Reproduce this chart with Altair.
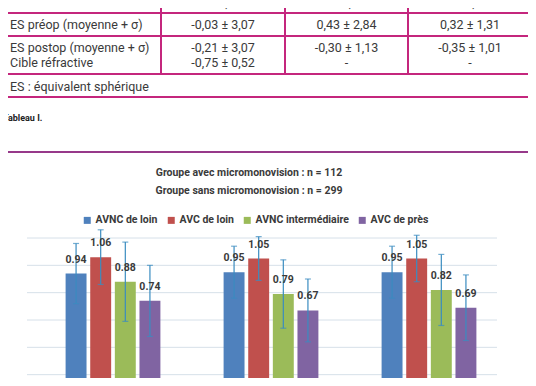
import altair as alt
import pandas as pd

# ---------------- data ----------------
groups = ["Avec micromonovision", "Sans micromonovision", "Total"]
series = ["AVNC de loin", "AVC de loin", "AVNC intermédiaire", "AVC de près"]
colors = ["#4f81bd", "#c0504d", "#9bbb59", "#8064a2"]

vals_g1 = [0.94, 1.06, 0.88, 0.74]
err_g1 = [0.22, 0.20, 0.29, 0.26]
vals_g2 = [0.95, 1.05, 0.79, 0.67]
err_g2 = [0.19, 0.16, 0.25, 0.23]
vals_g3 = [0.95, 1.05, 0.82, 0.69]
err_g3 = [0.19, 0.17, 0.26, 0.24]

grid_ticks = [0.2, 0.4, 0.6, 0.8, 1.0, 1.2]

title_lines = ["Groupe avec micromonovision : n = 112",
               "Groupe sans micromonovision : n = 299"]
caption = "Tableau I."

table_labels = ["Hommes %", "ES préop (moyenne + σ)", "ES postop (moyenne + σ)", "Cible réfractive"]
table_col1 = ["43,9", "-0,03 ± 3,07", "-0,21 ± 3,07", "-0,75 ± 0,52"]
table_col2 = ["39,1", "0,43 ± 2,84", "-0,30 ± 1,13", "-"]
table_col3 = ["40,1", "0,32 ± 1,31", "-0,35 ± 1,01", "-"]
table_note = "ES : équivalent sphérique"

# ---------------- layout (page pixels) ----------------
W, H = 528, 378
PAD = -8
COL_EDGES = [3, 161, 285, 408, 532]
ROW_EDGES = [-12, 13, 36, 74, 97]
LINE_Y = [3, 25, 48, 63]
NOTE_Y = 87
TABLE_COLOR = "#c4267d"
FRAME_COLOR = "#97398a"
TEXT_COLOR = "#3a3a3a"
ERR_COLOR = "#3a8cc0"
FONT = "Roboto"

# table lines
rules = []
for y in ROW_EDGES[1:]:
    rules.append(dict(x=COL_EDGES[0], x2=COL_EDGES[-1], y=y, y2=y))
for x in (COL_EDGES[0], COL_EDGES[-1]):
    rules.append(dict(x=x, x2=x, y=ROW_EDGES[0], y2=ROW_EDGES[-1]))
for x in COL_EDGES[1:-1]:
    rules.append(dict(x=x, x2=x, y=ROW_EDGES[0], y2=ROW_EDGES[-2]))
df_rules = pd.DataFrame(rules)

df_left = pd.DataFrame({"t": table_labels + [table_note],
                        "x": [COL_EDGES[0] + 7] * 5,
                        "y": LINE_Y + [NOTE_Y]})
centers = [(COL_EDGES[i] + COL_EDGES[i + 1]) / 2 for i in range(1, 4)]
cells = []
for ci, col in enumerate([table_col1, table_col2, table_col3]):
    for ri, t in enumerate(col):
        cells.append(dict(t=t, x=centers[ci], y=LINE_Y[ri]))
df_cells = pd.DataFrame(cells)

table_rules = alt.Chart(df_rules).mark_rule(color=TABLE_COLOR, strokeWidth=2).encode(
    x=alt.X("x:Q", scale=None, axis=None), x2="x2:Q",
    y=alt.Y("y:Q", scale=None, axis=None), y2="y2:Q")

table_left = alt.Chart(df_left).mark_text(
    align="left", baseline="middle", font=FONT, fontSize=12.5, color=TEXT_COLOR).encode(
    x=alt.X("x:Q", scale=None, axis=None), y=alt.Y("y:Q", scale=None, axis=None), text="t:N")

table_center = alt.Chart(df_cells).mark_text(
    align="center", baseline="middle", font=FONT, fontSize=12.5, color=TEXT_COLOR).encode(
    x=alt.X("x:Q", scale=None, axis=None), y=alt.Y("y:Q", scale=None, axis=None), text="t:N")

cap_text = alt.Chart(pd.DataFrame({"t": [caption]})).mark_text(
    align="left", baseline="middle", font=FONT, fontSize=9, fontWeight="bold", color="#222").encode(
    x=alt.value(3), y=alt.value(118), text="t:N")

frame = alt.Chart(pd.DataFrame({"a": [0]})).mark_rect(
    fillOpacity=0, stroke=FRAME_COLOR, strokeWidth=2).encode(
    x=alt.value(3), x2=alt.value(532), y=alt.value(152), y2=alt.value(440))

titles = alt.Chart(pd.DataFrame({"t": title_lines, "y": [173, 191]})).mark_text(
    align="center", baseline="middle", font=FONT, fontSize=10.5, fontWeight="bold", color=TEXT_COLOR).encode(
    x=alt.value(249), y=alt.Y("y:Q", scale=None, axis=None), text="t:N")

# ---------------- bar chart ----------------
rows = []
for g, vals, errs in zip(groups, [vals_g1, vals_g2, vals_g3], [err_g1, err_g2, err_g3]):
    for s, v, e in zip(series, vals, errs):
        rows.append(dict(group=g, series=s, value=v, lo=v - e, hi=v + e))
df = pd.DataFrame(rows)

xs = alt.Scale(domain=groups, range=[34, 508], paddingInner=0.4, paddingOuter=0.2)
xo = alt.Scale(domain=series, paddingInner=0.15, paddingOuter=0)
ys = alt.Scale(domain=[0, 1.2], range=[402, 238], nice=False, zero=False)

X = alt.X("group:N", scale=xs, axis=None, sort=groups)
XO = alt.XOffset("series:N", scale=xo, sort=series)

grid = alt.Chart(pd.DataFrame({"v": grid_ticks})).mark_rule(color="#d6e0e9", strokeWidth=1).encode(
    y=alt.Y("v:Q", scale=ys, axis=None), x=alt.value(27), x2=alt.value(497))

bars = alt.Chart(df).mark_bar().encode(
    x=X, xOffset=XO,
    y=alt.Y("value:Q", scale=ys, axis=None),
    color=alt.Color("series:N", sort=series,
                    scale=alt.Scale(domain=series, range=colors),
                    legend=alt.Legend(title=None, orient="none", legendX=82, legendY=215,
                                      direction="horizontal", symbolType="square",
                                      symbolSize=49, symbolStrokeWidth=0,
                                      labelFont=FONT, labelFontWeight="bold",
                                      labelFontSize=10.5, labelColor=TEXT_COLOR,
                                      columnPadding=8, labelOffset=3)))

err = alt.Chart(df).mark_rule(color=ERR_COLOR, strokeWidth=1.2).encode(
    x=X, xOffset=XO, y=alt.Y("lo:Q", scale=ys, axis=None), y2="hi:Q")
cap_lo = alt.Chart(df).mark_tick(color=ERR_COLOR, size=6, thickness=1.2, orient="horizontal").encode(
    x=X, xOffset=XO, y=alt.Y("lo:Q", scale=ys, axis=None))
cap_hi = alt.Chart(df).mark_tick(color=ERR_COLOR, size=6, thickness=1.2, orient="horizontal").encode(
    x=X, xOffset=XO, y=alt.Y("hi:Q", scale=ys, axis=None))
labels = alt.Chart(df).mark_text(
    font=FONT, fontSize=10.5, fontWeight="bold", color=TEXT_COLOR, baseline="middle", dy=-14).encode(
    x=X, xOffset=XO, y=alt.Y("value:Q", scale=ys, axis=None),
    text=alt.Text("value:Q", format=".2f"))

data_layer = alt.layer(grid, bars, err, cap_lo, cap_hi, labels)

chart = alt.layer(table_rules, table_left, table_center, cap_text, frame, titles, data_layer
                  ).resolve_scale(x="independent", y="independent").properties(
    width=W, height=H,
    autosize=alt.AutoSizeParams(type="none"),
    padding={"left": PAD, "top": PAD, "right": 0, "bottom": 0},
).configure_view(stroke=None)

chart.save("out.html", embed_options={"renderer": "svg", "actions": False})
